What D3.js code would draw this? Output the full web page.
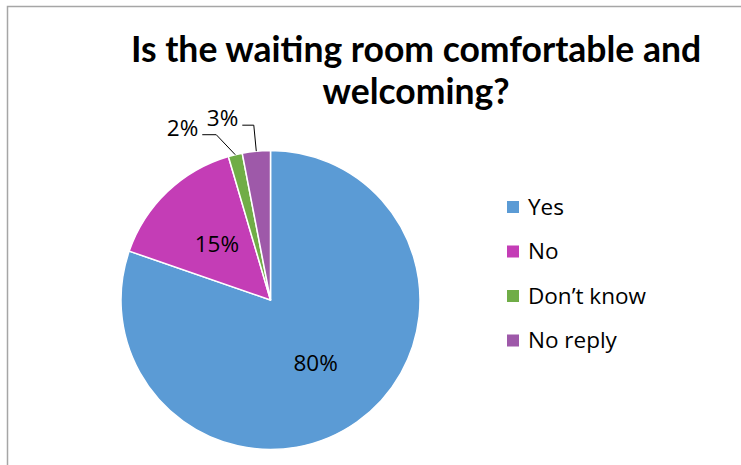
<!DOCTYPE html>
<html><head><meta charset="utf-8">
<script src="https://cdn.jsdelivr.net/npm/d3@7"></script>
<style>html,body{margin:0;padding:0;background:#fff;overflow:hidden}</style>
</head><body>
<script>
const categories = ["Yes", "No", "Don\u2019t know", "No reply"];
const values = [53, 10, 1, 2];
const labels = ["80%", "15%", "2%", "3%"];
const colors = ["#5B9BD5", "#C43DB6", "#70AD47", "#9E59A9"];
const title = ["Is the waiting room comfortable and", "welcoming?"];

const W = 741, H = 465;
const svg = d3.select("body").append("svg").attr("width", W).attr("height", H);
const font = "'Open Sans', Lato, sans-serif";
const tfont = "Lato, 'Open Sans', sans-serif";

// chart border
svg.append("rect").attr("x", 7.5).attr("y", 6.5).attr("width", W + 10).attr("height", H + 10)
  .attr("fill", "none").attr("stroke", "#a6a6a6").attr("stroke-width", 1.5);

// title
const t = svg.append("text").attr("text-anchor", "middle").attr("font-family", tfont)
  .attr("font-weight", 700).attr("font-size", 35.5).attr("fill", "#000");
title.forEach((s, i) => t.append("tspan").attr("x", 416).attr("y", 62 + i * 42).text(s));

const cx = 270.5, cy = 300, R = 149.5;
const g = svg.append("g").attr("transform", `translate(${cx},${cy})`);
const pie = d3.pie().sort(null).value(d => d);
const arcs = pie(values);
const arc = d3.arc().innerRadius(0).outerRadius(R);
g.selectAll("path.slice").data(arcs).enter().append("path")
  .attr("d", arc).attr("fill", (d, i) => colors[i])
  .attr("stroke", "#fff").attr("stroke-width", 1.5).attr("stroke-linejoin", "round");

// inside labels
const labelArc = d3.arc().innerRadius(R * 0.52).outerRadius(R * 0.52);
const outerArc = d3.arc().innerRadius(R).outerRadius(R);
const fs = 22.5;
arcs.forEach((d, i) => {
  if (d.endAngle - d.startAngle > 0.3) {
    const [x, y] = labelArc.centroid(d);
    g.append("text").attr("x", x).attr("y", y).attr("dy", "0.35em")
      .attr("text-anchor", "middle").attr("font-family", font).attr("font-size", fs)
      .attr("fill", "#000").text(labels[i]);
  }
});

// outside labels with leader lines (elbow offsets, text gap)
const callouts = {2: {elbow: [-19, -20], run: -14, dy: -6.5}, 3: {elbow: [-2.5, -26], run: -11.5, dy: -7}};
arcs.forEach((d, i) => {
  const c = callouts[i];
  if (!c) return;
  const [sx, sy] = outerArc.centroid(d);
  const ex = sx + c.elbow[0], ey = sy + c.elbow[1];
  const hx = ex + c.run;
  g.append("polyline").attr("points", `${sx},${sy} ${ex},${ey} ${hx},${ey}`)
    .attr("fill", "none").attr("stroke", "#000").attr("stroke-width", 1);
  g.append("text").attr("x", hx - 4).attr("y", ey + c.dy).attr("dy", "0.35em")
    .attr("text-anchor", "end").attr("font-family", font).attr("font-size", fs)
    .attr("fill", "#000").text(labels[i]);
});

// legend
const lg = svg.append("g").attr("transform", "translate(507,207)");
categories.forEach((c, i) => {
  const row = lg.append("g").attr("transform", `translate(0,${i * 44.5})`);
  row.append("rect").attr("x", 0).attr("y", -6).attr("width", 12).attr("height", 12).attr("fill", colors[i]);
  row.append("text").attr("x", 21).attr("y", 0).attr("dy", "0.35em")
    .attr("font-family", font).attr("font-size", fs).attr("fill", "#000").text(c);
});
</script>
</body></html>
